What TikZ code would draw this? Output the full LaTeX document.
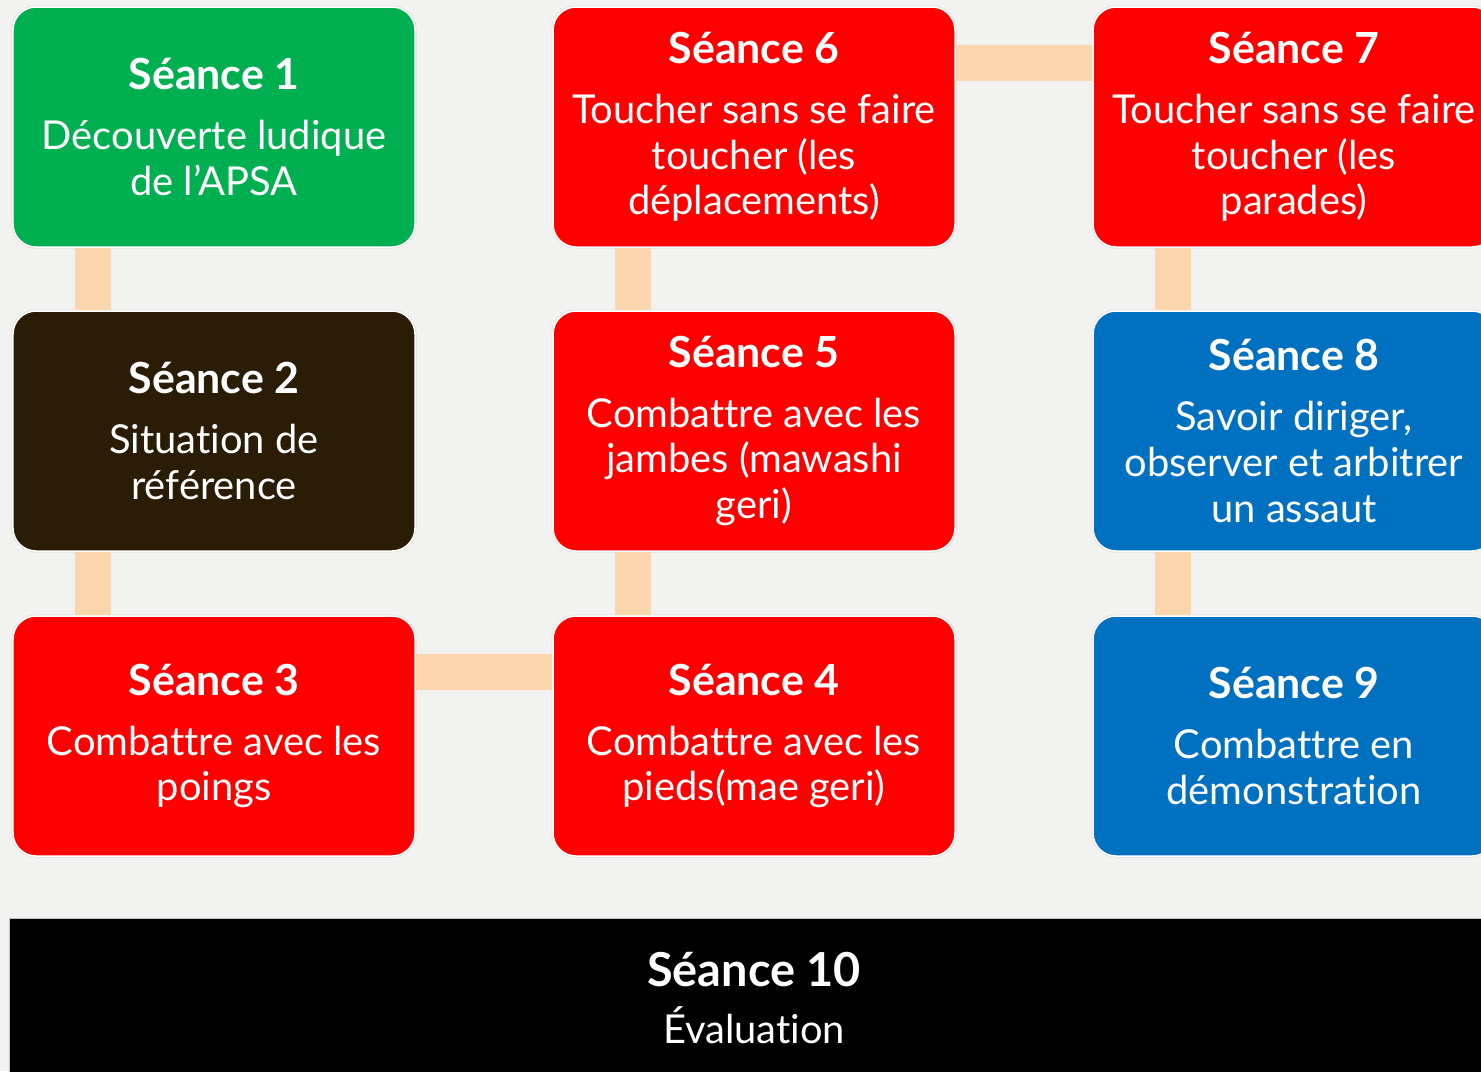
\documentclass[tikz,border=0pt]{standalone}
\usepackage{fontspec}
\setmainfont{Lato}[Ligatures=NoCommon]
\definecolor{bgcol}{HTML}{F2F2F0}
\definecolor{linkcol}{HTML}{FBD5AB}
\definecolor{greencol}{HTML}{00B050}
\definecolor{redcol}{HTML}{FF0000}
\definecolor{browncol}{HTML}{2B1D05}
\definecolor{bluecol}{HTML}{0070C0}
\tikzset{
  seance/.style={rectangle, rounded corners=23bp, draw=white, line width=1.5bp,
    preaction={draw=black!12, line width=3bp},
    minimum width=402bp, minimum height=240bp, inner sep=0pt,
    text=white, align=center, font=\fontsize{40}{46}\selectfont},
  link/.style={draw=linkcol, line width=36bp},
}
\newcommand{\titre}[1]{{\fontsize{43}{46}\selectfont\bfseries #1}\\[14bp]}
\begin{document}
\begin{tikzpicture}[x=1bp, y=-1bp]
  \fill[bgcol] (0,0) rectangle (1481,1071);
  \clip (0,0) rectangle (1481,1071);
  \node[seance, fill=greencol] (s1) at (214,127) {\titre{Séance 1}Découverte ludique\\de l’APSA};
  \node[seance, fill=browncol] (s2) at (214,431) {\titre{Séance 2}Situation de\\référence};
  \node[seance, fill=redcol] (s3) at (214,736) {\titre{Séance 3}Combattre avec les\\poings};
  \node[seance, fill=redcol] (s4) at (754,736) {\titre{Séance 4}Combattre avec les\\pieds(mae geri)};
  \node[seance, fill=redcol] (s5) at (754,431) {\titre{Séance 5}Combattre avec les\\jambes (mawashi\\geri)};
  \node[seance, fill=redcol] (s6) at (754,127) {\titre{Séance 6}Toucher sans se faire\\toucher (les\\déplacements)};
  \node[seance, fill=redcol] (s7) at (1294,127) {\titre{Séance 7}Toucher sans se faire\\toucher (les\\parades)};
  \node[seance, fill=bluecol] (s8) at (1294,431) {\titre{Séance 8}Savoir diriger,\\observer et arbitrer\\un assaut};
  \node[seance, fill=bluecol] (s9) at (1294,736) {\titre{Séance 9}Combattre en\\démonstration};
  \node[rectangle, fill=black, draw=black!25, line width=1bp, minimum width=1488bp, minimum height=160bp,
    text=white, align=center, font=\fontsize{40}{46}\selectfont] (s10) at (754,998)
    {{\fontsize{47}{46}\selectfont\bfseries Séance 10}\\[12bp]Évaluation};
  % liaisons
  \draw[link] ([xshift=81bp]s1.south west) -- ([xshift=81bp]s2.north west);
  \draw[link] ([xshift=81bp]s2.south west) -- ([xshift=81bp]s3.north west);
  \draw[link] ([yshift=-57bp]s3.north east) -- ([yshift=-57bp]s4.north west);
  \draw[link] ([xshift=81bp]s4.north west) -- ([xshift=81bp]s5.south west);
  \draw[link] ([xshift=81bp]s5.north west) -- ([xshift=81bp]s6.south west);
  \draw[link] ([yshift=-57bp]s6.north east) -- ([yshift=-57bp]s7.north west);
  \draw[link] ([xshift=81bp]s7.south west) -- ([xshift=81bp]s8.north west);
  \draw[link] ([xshift=81bp]s8.south west) -- ([xshift=81bp]s9.north west);
\end{tikzpicture}
\end{document}
